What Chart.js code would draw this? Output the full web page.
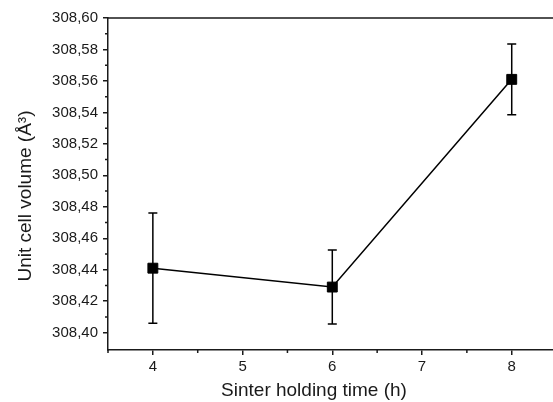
<!DOCTYPE html>
<html>
<head>
<meta charset="utf-8">
<script src="https://cdn.jsdelivr.net/npm/chart.js@4.4.1/dist/chart.umd.min.js"></script>
<style>
  html, body { margin: 0; padding: 0; background: #fff; }
  #wrap { width: 553px; height: 402px; }
</style>
</head>
<body>
<div id="wrap"><canvas id="chart"></canvas></div>
<script>
// values
const holdingTimes = [4, 6, 8];
const cellVolumes = [308.441, 308.429, 308.561];
const volumeErrors = [0.035, 0.0235, 0.0225];

const xTitle = 'Sinter holding time (h)';
const yTitle = 'Unit cell volume (\u00C5\u00B3)';

const axisColor = '#1a1a1a';
const fontFamily = 'Liberation Sans, Arial, sans-serif';
const font = { family: fontFamily, size: 15 };

// error bars, minor ticks, top frame line and axis titles (placed off-centre like the original)
const extras = {
  id: 'extras',
  afterDatasetsDraw(chart) {
    const { ctx, scales: { x, y } } = chart;
    ctx.save();
    ctx.strokeStyle = '#000';
    ctx.lineWidth = 1.5;
    holdingTimes.forEach((t, i) => {
      const px = x.getPixelForValue(t);
      const top = y.getPixelForValue(cellVolumes[i] + volumeErrors[i]);
      const bot = y.getPixelForValue(cellVolumes[i] - volumeErrors[i]);
      ctx.beginPath();
      ctx.moveTo(px, top); ctx.lineTo(px, bot);
      ctx.moveTo(px - 4.5, top); ctx.lineTo(px + 4.5, top);
      ctx.moveTo(px - 4.5, bot); ctx.lineTo(px + 4.5, bot);
      ctx.stroke();
    });
    ctx.restore();
  },
  afterDraw(chart) {
    const { ctx, scales: { x, y }, chartArea } = chart;
    ctx.save();
    ctx.strokeStyle = axisColor;
    ctx.lineWidth = 1.5;
    ctx.beginPath();
    ctx.moveTo(chartArea.left, chartArea.top);
    ctx.lineTo(chartArea.right, chartArea.top);
    for (let v = 3.5; v <= x.max; v += 1) {
      const px = x.getPixelForValue(v);
      ctx.moveTo(px, chartArea.bottom); ctx.lineTo(px, chartArea.bottom + 3);
    }
    for (let k = 0; k < 10; k++) {
      const v = 308.41 + k * 0.02;
      if (v > y.max) break;
      const py = y.getPixelForValue(v);
      ctx.moveTo(chartArea.left, py); ctx.lineTo(chartArea.left - 3, py);
    }
    ctx.stroke();

    ctx.fillStyle = axisColor;
    ctx.font = '19px ' + fontFamily;
    ctx.textAlign = 'center';
    ctx.textBaseline = 'middle';
    ctx.fillText(xTitle, 314, 391);
    ctx.translate(26, 196);
    ctx.rotate(-Math.PI / 2);
    ctx.fillText(yTitle, 0, 0);
    ctx.restore();
  }
};

new Chart(document.getElementById('chart').getContext('2d'), {
  type: 'line',
  data: {
    datasets: [{
      data: holdingTimes.map((t, i) => ({ x: t, y: cellVolumes[i] })),
      borderColor: '#000',
      backgroundColor: '#000',
      borderWidth: 1.5,
      pointStyle: 'rect',
      pointRadius: 7,
      pointBorderWidth: 1,
      tension: 0
    }]
  },
  options: {
    responsive: true,
    maintainAspectRatio: false,
    animation: false,
    layout: { autoPadding: false, padding: { top: 18, right: 0, left: 0, bottom: 0 } },
    plugins: { legend: { display: false }, tooltip: { enabled: false } },
    scales: {
      x: {
        type: 'linear',
        min: 3.5,
        max: 8.46,
        afterFit(scale) { scale.height = 52; scale.paddingRight = 0; scale.paddingLeft = 0; },
        border: { color: axisColor, width: 1.5 },
        grid: { drawOnChartArea: false, drawTicks: true, tickLength: 5, color: axisColor, lineWidth: 1.5 },
        ticks: { stepSize: 1, includeBounds: false, color: axisColor, font: font, padding: 3, maxRotation: 0 }
      },
      y: {
        type: 'linear',
        min: 308.389,
        max: 308.60,
        afterFit(scale) { scale.width = 108; },
        border: { color: axisColor, width: 1.5 },
        grid: { drawOnChartArea: false, drawTicks: true, tickLength: 5, color: axisColor, lineWidth: 1.5 },
        ticks: {
          stepSize: 0.02, includeBounds: false, color: axisColor, font: font, padding: 5,
          callback: v => v.toFixed(2).replace('.', ',')
        }
      }
    }
  },
  plugins: [extras]
});
</script>
</body>
</html>
